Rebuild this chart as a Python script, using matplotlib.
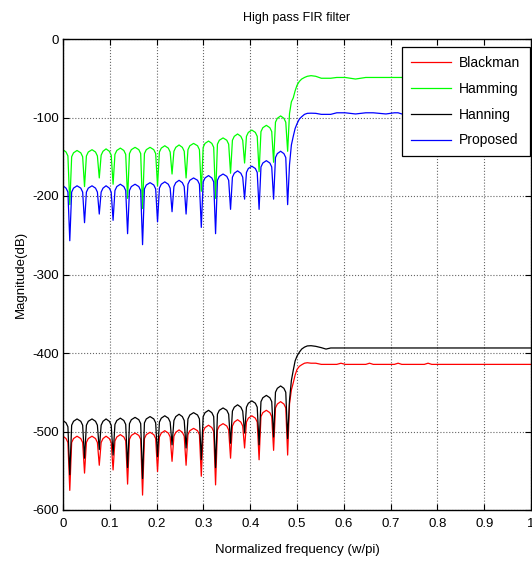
import matplotlib
matplotlib.use("Agg")
import matplotlib.pyplot as plt

plt.rcParams['font.family'] = ['Liberation Sans', 'DejaVu Sans']
plt.rcParams['axes.unicode_minus'] = False

# normalized frequency grid (w/pi): nulls, lobe shoulders, lobe peaks, passband
freq = [0.0, 0.0065, 0.0105, 0.0145,
        0.0185, 0.0225, 0.030, 0.038, 0.042, 0.046,
        0.050, 0.054, 0.062, 0.0695, 0.0735, 0.0775,
        0.0815, 0.0855, 0.092, 0.099, 0.103, 0.107,
        0.111, 0.115, 0.1225, 0.130, 0.134, 0.138,
        0.142, 0.146, 0.154, 0.162, 0.166, 0.170,
        0.174, 0.178, 0.186, 0.194, 0.198, 0.202,
        0.206, 0.210, 0.2175, 0.225, 0.229, 0.233,
        0.237, 0.241, 0.248, 0.255, 0.259, 0.263,
        0.267, 0.271, 0.279, 0.2875, 0.2915, 0.2955,
        0.2995, 0.3035, 0.311, 0.318, 0.322, 0.326,
        0.330, 0.334, 0.342, 0.350, 0.354, 0.358,
        0.362, 0.366, 0.373, 0.380, 0.384, 0.388,
        0.392, 0.396, 0.4035, 0.411, 0.415, 0.419,
        0.423, 0.427, 0.4345, 0.442, 0.446, 0.450,
        0.454, 0.458, 0.465, 0.472, 0.476, 0.480,
        0.484, 0.488, 0.492, 0.496, 0.500, 0.505, 0.510, 0.516, 0.522, 0.530,
        0.540, 0.552, 0.562, 0.572, 0.585, 0.594, 0.603, 0.625, 0.647, 0.655,
        0.663, 0.690, 0.708, 0.716, 0.724, 0.760, 0.772, 0.780, 0.788, 0.850,
        0.900, 0.950, 1.000]

blackman = [-506, -509, -514, -575,
            -514, -509, -506, -509, -514, -553,
            -514, -509, -506, -509, -514, -543,
            -514, -509, -506, -509, -514, -549,
            -512, -507, -504, -507, -512, -567,
            -510, -505, -502, -505, -510, -581,
            -509, -504, -501, -504, -509, -551,
            -507, -502, -499, -502, -507, -538,
            -506, -501, -498, -501, -506, -543,
            -504, -499, -496, -499, -504, -557,
            -500, -495, -492, -495, -500, -568,
            -498, -493, -490, -493, -498, -534,
            -493, -488, -485, -488, -493, -521,
            -488, -483, -480, -483, -488, -536,
            -481, -476, -473, -476, -481, -524,
            -470, -465, -462, -465, -470, -530,
            -465, -447, -438, -428, -421, -417, -415, -413, -412.4, -413,
            -413, -414.5, -414.5, -414.5, -414.5, -413, -414.5, -414.5, -414.5, -413,
            -414.5, -414.5, -414.5, -413, -414.5, -414.5, -414.5, -413, -414.5, -414.5,
            -414.5, -414.5, -414.5]

hamming = [-141, -144, -149, -211,
           -150, -145, -142, -145, -150, -188,
           -149, -144, -141, -144, -149, -177,
           -148, -143, -140, -143, -148, -185,
           -147, -142, -139, -142, -147, -203,
           -146, -141, -138, -141, -146, -216,
           -146, -141, -138, -141, -146, -187,
           -144, -139, -136, -139, -144, -172,
           -143, -138, -135, -138, -143, -177,
           -141, -136, -133, -136, -141, -194,
           -138, -133, -130, -133, -138, -203,
           -134, -129, -126, -129, -134, -171,
           -129, -124, -121, -124, -129, -158,
           -124, -119, -116, -119, -124, -169,
           -118, -113, -110, -113, -118, -157,
           -106, -101, -98, -101, -106, -143,
           -95, -80, -75, -66, -59, -54, -51, -49, -47.5, -46.7,
           -47.5, -50, -50, -50, -49, -49, -49, -51, -49, -49,
           -49, -49, -49, -49, -49, -49, -49, -49, -49, -49,
           -49, -49, -49]

hanning = [-486, -489, -494, -555,
           -492, -487, -484, -487, -492, -534,
           -492, -487, -484, -487, -492, -523,
           -492, -487, -484, -487, -492, -530,
           -491, -486, -483, -486, -491, -546,
           -490, -485, -482, -485, -490, -560,
           -489, -484, -481, -484, -489, -532,
           -488, -483, -480, -483, -488, -517,
           -486, -481, -478, -481, -486, -521,
           -484, -479, -476, -479, -484, -536,
           -481, -476, -473, -476, -481, -546,
           -478, -473, -470, -473, -478, -515,
           -474, -469, -466, -469, -474, -502,
           -469, -464, -461, -464, -469, -517,
           -462, -457, -454, -457, -462, -507,
           -450, -445, -442, -445, -450, -509,
           -460, -435, -422, -410, -404, -399, -395, -392.5, -391, -390.7,
           -391.5, -393.2, -395, -393.6, -393.6, -393.6, -393.6, -393.6, -393.6, -393.6,
           -393.6, -393.6, -393.6, -393.6, -393.6, -393.6, -393.6, -393.6, -393.6, -393.6,
           -393.6, -393.6, -393.6]

proposed = [-187, -190, -195, -257,
            -195, -190, -187, -190, -195, -234,
            -195, -190, -187, -190, -195, -223,
            -195, -190, -187, -190, -195, -231,
            -193, -188, -185, -188, -193, -248,
            -193, -188, -185, -188, -193, -262,
            -191, -186, -183, -186, -191, -233,
            -190, -185, -182, -185, -190, -220,
            -188, -183, -180, -183, -188, -223,
            -185, -180, -177, -180, -185, -240,
            -182, -177, -174, -177, -182, -248,
            -180, -175, -172, -175, -180, -217,
            -176, -171, -168, -171, -176, -204,
            -170, -165, -162, -165, -170, -217,
            -163, -158, -155, -158, -163, -204,
            -151, -146, -143, -146, -151, -211,
            -160, -135, -124, -114, -108, -102, -99, -96, -94.7, -94.5,
            -94.7, -96, -96, -96, -94, -94, -94, -95.5, -94, -94,
            -94, -95.5, -94, -94, -95.5, -95.5, -94, -94, -95.5, -95.5,
            -96, -96, -96]

series = [("Blackman", blackman, "#ff0000"),
          ("Hamming", hamming, "#00ff00"),
          ("Hanning", hanning, "#000000"),
          ("Proposed", proposed, "#0000ff")]

fig = plt.figure(figsize=(5.32, 5.62), dpi=100)
ax = fig.add_axes([63/532, 52/562, 468/532, 471/562])

for name, mag, col in series:
    ax.plot(freq, mag, color=col, linewidth=0.9, label=name)

ax.set_xlim(0, 1)
ax.set_ylim(-600, 0)
ax.set_xticks([0, 0.1, 0.2, 0.3, 0.4, 0.5, 0.6, 0.7, 0.8, 0.9, 1])
ax.set_xticklabels(["0", "0.1", "0.2", "0.3", "0.4", "0.5", "0.6", "0.7", "0.8", "0.9", "1"])
ax.set_yticks([0, -100, -200, -300, -400, -500, -600])
ax.grid(True, color="0.4", linestyle=":", linewidth=0.8)
ax.tick_params(direction="in", top=True, right=True, labelsize=9.5, length=4)
ax.tick_params(axis="x", pad=6)
ax.tick_params(axis="y", pad=3)
for s in ax.spines.values():
    s.set_linewidth(1.0)

ax.set_title("High pass FIR filter", fontsize=9, pad=13)
ax.set_xlabel("Normalized frequency (w/pi)", fontsize=9.5, labelpad=10)
ax.set_ylabel("Magnitude(dB)", fontsize=9.5, labelpad=4)

leg = ax.legend(loc="upper right", bbox_to_anchor=(0.997, 0.983), fontsize=10,
                fancybox=False, framealpha=1, edgecolor="black", borderaxespad=0,
                handlelength=2.9, handletextpad=0.6, labelspacing=0.85, borderpad=0.65)
leg.get_frame().set_linewidth(0.9)

fig.savefig("out.png", dpi=100)
